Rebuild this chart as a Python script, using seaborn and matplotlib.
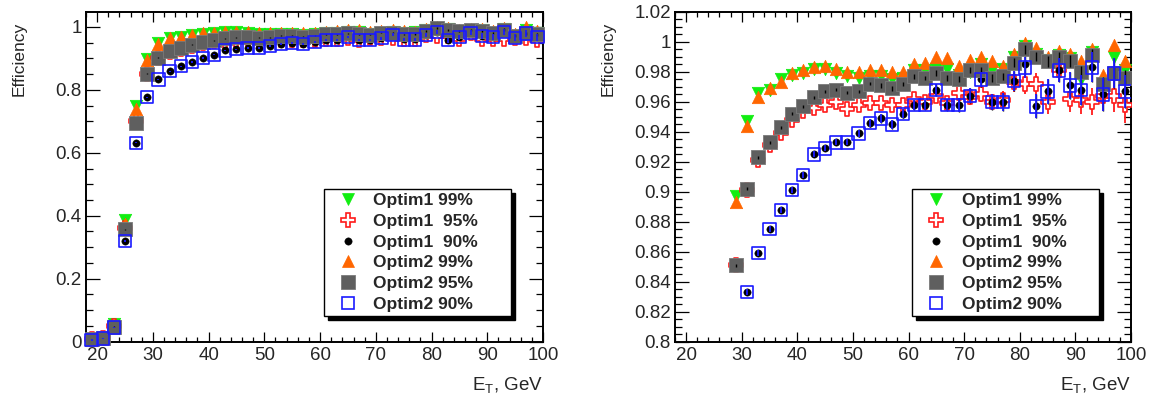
import matplotlib
matplotlib.use("Agg")
import matplotlib.pyplot as plt
import seaborn as sns
from matplotlib.lines import Line2D
from matplotlib.ticker import MultipleLocator, FormatStrFormatter

# ---------------- data ----------------
et_gev = [19, 21, 23, 25, 27, 29, 31, 33, 35, 37, 39, 41, 43, 45, 47, 49, 51, 53, 55, 57,
          59, 61, 63, 65, 67, 69, 71, 73, 75, 77, 79, 81, 83, 85, 87, 89, 91, 93, 95, 97, 99]

eff_optim1_99 = [0.006, 0.012, 0.055, 0.388, 0.748, 0.897, 0.947, 0.966, 0.968, 0.975, 0.978,
                 0.979, 0.982, 0.982, 0.979, 0.977, 0.976, 0.977, 0.977, 0.975, 0.976, 0.981,
                 0.981, 0.982, 0.982, 0.978, 0.980, 0.985, 0.981, 0.982, 0.990, 0.997, 0.992,
                 0.988, 0.991, 0.989, 0.975, 0.993, 0.972, 0.990, 0.981]
eff_optim1_95 = [0.007, 0.011, 0.049, 0.360, 0.700, 0.851, 0.901, 0.921, 0.931, 0.939, 0.948,
                 0.954, 0.956, 0.958, 0.960, 0.955, 0.958, 0.959, 0.959, 0.958, 0.958, 0.962,
                 0.960, 0.964, 0.959, 0.966, 0.963, 0.965, 0.960, 0.961, 0.973, 0.972, 0.972,
                 0.960, 0.981, 0.962, 0.961, 0.960, 0.964, 0.964, 0.958]
eff_optim1_90 = [0.005, 0.010, 0.045, 0.320, 0.632, 0.776, 0.833, 0.859, 0.875, 0.888, 0.901,
                 0.911, 0.925, 0.929, 0.933, 0.933, 0.939, 0.946, 0.949, 0.945, 0.952, 0.958,
                 0.958, 0.968, 0.958, 0.958, 0.964, 0.975, 0.960, 0.960, 0.974, 0.985, 0.957,
                 0.967, 0.981, 0.971, 0.968, 0.983, 0.965, 0.979, 0.967]
eff_optim2_99 = [0.006, 0.012, 0.052, 0.375, 0.738, 0.893, 0.944, 0.963, 0.969, 0.973, 0.979,
                 0.981, 0.983, 0.984, 0.982, 0.980, 0.980, 0.981, 0.981, 0.980, 0.980, 0.985,
                 0.986, 0.990, 0.989, 0.984, 0.988, 0.990, 0.987, 0.984, 0.992, 0.999, 0.996,
                 0.990, 0.994, 0.992, 0.987, 0.995, 0.978, 0.998, 0.987]
eff_optim2_95 = [0.008, 0.012, 0.048, 0.357, 0.695, 0.851, 0.902, 0.923, 0.933, 0.943, 0.952,
                 0.957, 0.963, 0.967, 0.968, 0.966, 0.967, 0.972, 0.971, 0.969, 0.972, 0.977,
                 0.976, 0.979, 0.976, 0.975, 0.981, 0.981, 0.976, 0.977, 0.986, 0.995, 0.990,
                 0.987, 0.990, 0.987, 0.980, 0.991, 0.972, 0.979, 0.976]
eff_optim2_90 = [0.005, 0.010, 0.045, 0.320, 0.632, 0.776, 0.833, 0.859, 0.875, 0.888, 0.901,
                 0.911, 0.925, 0.929, 0.933, 0.933, 0.939, 0.946, 0.949, 0.945, 0.952, 0.958,
                 0.958, 0.968, 0.958, 0.958, 0.964, 0.975, 0.960, 0.960, 0.974, 0.983, 0.957,
                 0.967, 0.981, 0.971, 0.968, 0.983, 0.965, 0.979, 0.967]

err_90 = [0.002, 0.002, 0.002, 0.002, 0.002, 0.002, 0.002, 0.002, 0.002, 0.002, 0.002,
          0.002, 0.002, 0.002, 0.002, 0.002, 0.0025, 0.0025, 0.003, 0.003, 0.003, 0.0035,
          0.0035, 0.004, 0.004, 0.0045, 0.005, 0.005, 0.0055, 0.006, 0.0065, 0.007, 0.008,
          0.0085, 0.008, 0.009, 0.010, 0.010, 0.011, 0.010, 0.011]
err_95 = [0.002, 0.002, 0.002, 0.002, 0.002, 0.002, 0.002, 0.002, 0.002, 0.002, 0.002,
          0.002, 0.002, 0.002, 0.002, 0.002, 0.0025, 0.0025, 0.003, 0.003, 0.003, 0.0035,
          0.0035, 0.004, 0.004, 0.0045, 0.005, 0.005, 0.0055, 0.006, 0.0065, 0.007, 0.0075,
          0.008, 0.008, 0.0085, 0.009, 0.009, 0.010, 0.011, 0.012]
err_optim2_95 = [0.001, 0.001, 0.001, 0.001, 0.001, 0.001, 0.001, 0.001, 0.001, 0.001, 0.001,
                 0.001, 0.001, 0.001, 0.001, 0.001, 0.001, 0.001, 0.0015, 0.0015, 0.0015, 0.0015,
                 0.0015, 0.002, 0.002, 0.002, 0.002, 0.002, 0.0025, 0.0025, 0.003, 0.003, 0.003,
                 0.0035, 0.0035, 0.004, 0.004, 0.004, 0.0045, 0.0045, 0.005]

series_labels = ["Optim1 99%", "Optim1  95%", "Optim1  90%",
                 "Optim2 99%", "Optim2 95%", "Optim2 90%"]

# ---------------- style ----------------
sns.set_style("ticks")
plt.rcParams["font.family"] = ["Liberation Sans", "DejaVu Sans"]
plt.rcParams["mathtext.fontset"] = "custom"
plt.rcParams["mathtext.rm"] = "Liberation Sans"
plt.rcParams["mathtext.it"] = "Liberation Sans"

GREEN = "#11ee11"
RED = "#ff1a1a"
BLACK = "#000000"
ORANGE = "#ff6600"
GRAY = "#5f5f5f"
BLUE = "#1a1aff"

styles = [
    dict(marker="v", s=80, color=GREEN, edgecolor=GREEN, linewidth=0.5, z=3),
    dict(marker="P", s=88, color="white", edgecolor=RED, linewidth=1.2, z=4),
    dict(marker="o", s=28, color=BLACK, edgecolor=BLACK, linewidth=0.3, z=5),
    dict(marker="^", s=80, color=ORANGE, edgecolor=ORANGE, linewidth=0.5, z=6),
    dict(marker="s", s=88, color=GRAY, edgecolor="#7a7a7a", linewidth=0.6, z=7),
    dict(marker="s", s=78, color="none", edgecolor=BLUE, linewidth=1.2, z=8),
]
series_values = [eff_optim1_99, eff_optim1_95, eff_optim1_90,
                 eff_optim2_99, eff_optim2_95, eff_optim2_90]

fig = plt.figure(figsize=(11.53, 4.0), dpi=100)
ax_left = fig.add_axes([86 / 1153, 1 - 341.7 / 400, 457 / 1153, 329.7 / 400])
ax_right = fig.add_axes([675 / 1153, 1 - 341.7 / 400, 456 / 1153, 329.7 / 400])


def draw_panel(ax, ylim, ymajor, yminor, clip):
    ax.errorbar(et_gev, eff_optim1_95, yerr=err_95, fmt="none", ecolor=RED,
                elinewidth=1.3, capsize=0, zorder=3.9, clip_on=clip)
    ax.errorbar(et_gev, eff_optim1_90, yerr=err_90, fmt="none", ecolor=BLACK,
                elinewidth=1.0, capsize=0, zorder=4.9, clip_on=clip)
    for vals, st in zip(series_values, styles):
        sns.scatterplot(x=et_gev, y=vals, marker=st["marker"], s=st["s"],
                        facecolor=st["color"], edgecolor=st["edgecolor"],
                        linewidth=st["linewidth"], zorder=st["z"], ax=ax,
                        clip_on=clip, legend=False)
    ax.errorbar(et_gev, eff_optim2_95, yerr=err_optim2_95, fmt="none", ecolor=BLACK,
                elinewidth=1.0, capsize=0, zorder=7.1, clip_on=clip)
    ax.errorbar(et_gev, eff_optim2_90, yerr=err_90, fmt="none", ecolor=BLUE,
                elinewidth=1.3, capsize=0, zorder=8.1, clip_on=clip)

    ax.set_xlim(18, 100)
    ax.set_ylim(*ylim)
    ax.xaxis.set_major_locator(MultipleLocator(10))
    ax.xaxis.set_minor_locator(MultipleLocator(2))
    ax.yaxis.set_major_locator(MultipleLocator(ymajor))
    ax.yaxis.set_minor_locator(MultipleLocator(yminor))
    ax.yaxis.set_major_formatter(FormatStrFormatter("%g"))
    ax.xaxis.set_major_formatter(FormatStrFormatter("%g"))
    ax.tick_params(axis="both", which="both", direction="in", top=True, right=True,
                   width=0.9, color="black", labelsize=13.5)
    ax.tick_params(axis="y", which="major", length=10, pad=3)
    ax.tick_params(axis="y", which="minor", length=5)
    ax.tick_params(axis="x", which="major", length=7.2, pad=4)
    ax.tick_params(axis="x", which="minor", length=3.6)
    for sp in ax.spines.values():
        sp.set_linewidth(1.4)
        sp.set_color("black")
        sp.set_visible(True)

    ax.set_xlabel(r"$\mathrm{E_T}$, GeV", fontsize=13.5, loc="right")
    ax.xaxis.set_label_coords(1.0, -0.10)
    ax.set_ylabel("Efficiency", fontsize=12.5, loc="top")
    ax.yaxis.set_label_coords(-0.13, 0.97)

    handles = []
    for st in styles:
        handles.append(Line2D([], [], linestyle="none", marker=st["marker"],
                              markersize=(st["s"] ** 0.5), markerfacecolor=st["color"],
                              markeredgecolor=st["edgecolor"],
                              markeredgewidth=st["linewidth"]))
    leg = ax.legend(handles, series_labels, loc="center",
                    bbox_to_anchor=(0.52, 0.069, 0.41, 0.403), mode="expand",
                    prop={"family": "Liberation Sans", "weight": "bold", "size": 12.5},
                    frameon=True, fancybox=False, edgecolor="black", framealpha=1,
                    borderpad=0.25, labelspacing=0.32, handlelength=2.3,
                    handletextpad=0.3, borderaxespad=0,
                    shadow={"ox": 3, "oy": -3, "color": "black", "alpha": 1})
    leg.get_frame().set_linewidth(1.0)
    leg.set_zorder(20)


draw_panel(ax_left, (0, 1.047), 0.2, 0.05, False)
draw_panel(ax_right, (0.8, 1.02), 0.02, 0.005, True)

fig.savefig("out.png", dpi=100, facecolor="white")
